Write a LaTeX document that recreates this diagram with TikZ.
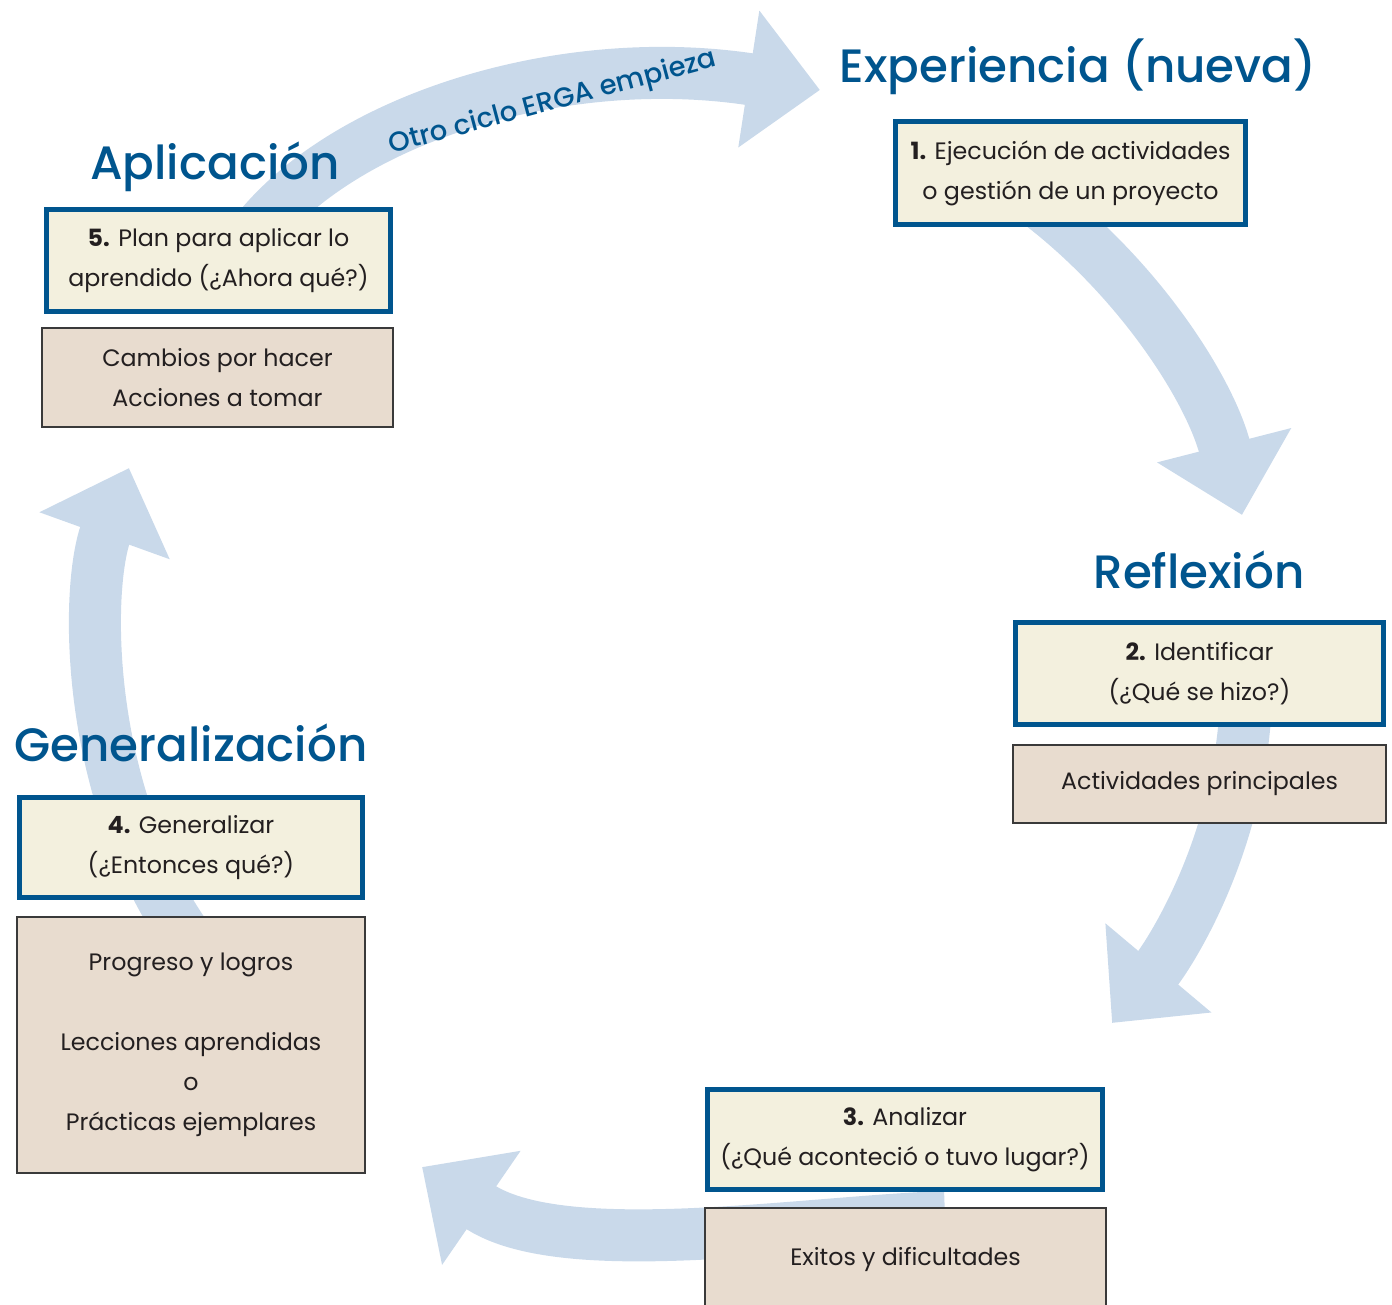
\documentclass[tikz,border=0pt]{standalone}
\usepackage{fontspec}
\setmainfont{Poppins}
\newfontfamily\headfont{Poppins Medium}
\usetikzlibrary{positioning,arrows.meta}

\definecolor{ergablue}{HTML}{00558E}
\definecolor{ergacream}{HTML}{F3F0DE}
\definecolor{ergatan}{HTML}{E8DCCF}
\definecolor{ergaarrow}{HTML}{C9D9EA}
\definecolor{ergatext}{HTML}{231F20}
\definecolor{ergaline}{HTML}{3A3A3A}

\tikzset{
	boxfont/.style={font=\fontsize{6.75pt}{11.4pt}\selectfont},
	stagebox/.style={boxfont, draw=ergablue, line width=0.05cm, fill=ergacream, text=ergatext, align=center, inner sep=0pt},
	notebox/.style={boxfont, draw=ergaline, line width=0.015cm, fill=ergatan, text=ergatext, align=center, inner sep=0pt},
	stagetitle/.style={text=ergablue, font=\headfont\fontsize{13.3pt}{16pt}\selectfont, anchor=base, inner sep=0pt},
	cyclelabel/.style={text=ergablue, font=\headfont\fontsize{7.8pt}{10pt}\selectfont, inner sep=0pt},
	cyclearrow/.style={draw=ergaarrow, line width=0.52cm, -{Triangle[length=7.2mm, width=13.4mm]}}
}

\begin{document}
\begin{tikzpicture}[x=0.01cm, y=-0.01cm]
	\clip (0,0) rectangle (1392,1304);

	% big arrows round the cycle
	\coordinate (a5s) at (252,237);  \coordinate (a5e) at (820,90);
	\coordinate (a1s) at (1035,200); \coordinate (a1e) at (1242,515);
	\coordinate (a2s) at (1246,700); \coordinate (a2e) at (1112,1023);
	\coordinate (a3s) at (945,1217); \coordinate (a3e) at (422,1167);
	\coordinate (a4s) at (185,935);  \coordinate (a4e) at (129,468);

	\draw [cyclearrow] (a5s) .. controls (340,120) and (560,50) .. (a5e);
	\draw [cyclearrow] (a1s) .. controls (1139,278) and (1210,390) .. (a1e);
	\draw [cyclearrow] (a2s) .. controls (1240,850) and (1165,960) .. (a2e);
	\draw [cyclearrow] (a3s) .. controls (800,1222) and (560,1262) .. (a3e);
	\draw [cyclearrow] (a4s) .. controls (85,790) and (85,590) .. (a4e);

	\node [cyclelabel, rotate=15] (otro) at (553,103) {Otro ciclo ERGA empieza};

	% titles
	\node [stagetitle] (texp) at (1078,83) {Experiencia (nueva)};
	\node [stagetitle] (trefl) at (1199,588) {Reflexión};
	\node [stagetitle] (tgen) at (191,761) {Generalización};
	\node [stagetitle] (tapl) at (215,180) {Aplicación};

	% stage boxes
	\node [stagebox, minimum width=3.50cm, minimum height=1.03cm] (exp) at (1070.5,173)
		{\textbf{1.} Ejecución de actividades\\o gestión de un proyecto};
	\node [stagebox, minimum width=3.68cm, minimum height=1.02cm] (refl) at (1199.5,673.5)
		{\textbf{2.} Identificar\\(¿Qué se hizo?)};
	\node [stagebox, minimum width=3.95cm, minimum height=1.00cm] (anal) at (905,1139.5)
		{\textbf{3.} Analizar\\(¿Qué aconteció o tuvo lugar?)};
	\node [stagebox, minimum width=3.43cm, minimum height=1.00cm] (gen) at (191,847.5)
		{\textbf{4.} Generalizar\\(¿Entonces qué?)};
	\node [stagebox, minimum width=3.44cm, minimum height=1.02cm] (apl) at (218.5,260.5)
		{\textbf{5.} Plan para aplicar lo\\aprendido (¿Ahora qué?)};

	% notes under the boxes
	\node [notebox, minimum width=3.73cm, minimum height=0.78cm] (nrefl) at (1199.5,784)
		{Actividades principales};
	\node [notebox, minimum width=4.01cm, minimum height=1.02cm] (nanal) at (905.5,1259)
		{Exitos y dificultades};
	\node [notebox, minimum width=3.48cm, minimum height=2.56cm] (ngen) at (191,1045)
		{Progreso y logros\\[11.4pt]Lecciones aprendidas\\o\\Prácticas ejemplares};
	\node [notebox, minimum width=3.51cm, minimum height=0.99cm] (napl) at (217.5,377.5)
		{Cambios por hacer\\Acciones a tomar};
\end{tikzpicture}
\end{document}
